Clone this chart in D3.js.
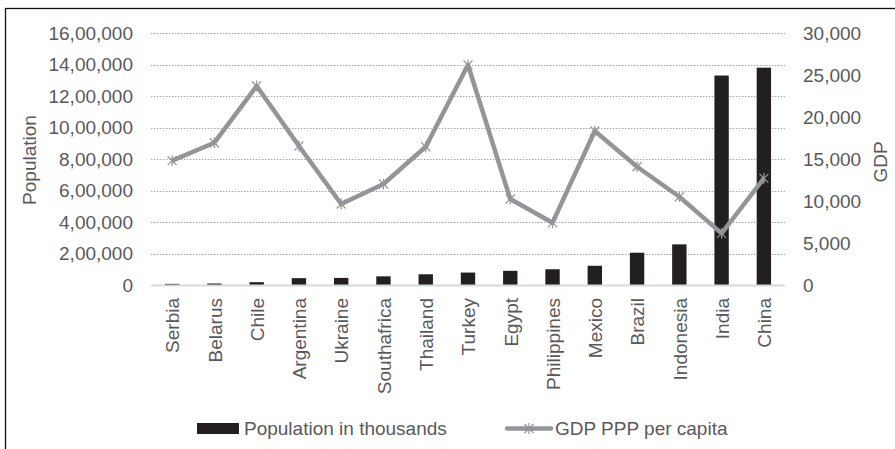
<!DOCTYPE html>
<html>
<head>
<meta charset="utf-8">
<script src="https://cdn.jsdelivr.net/npm/d3@7"></script>
<style>
  html, body { margin: 0; padding: 0; background: #fff; }
  svg { display: block; font-family: "Liberation Sans", Arial, sans-serif; }
</style>
</head>
<body>
<svg id="chart" width="895" height="449"></svg>
<script>
// chart data
const countries = ['Serbia', 'Belarus', 'Chile', 'Argentina', 'Ukraine', 'Southafrica', 'Thailand',
    'Turkey', 'Egypt', 'Philippines', 'Mexico', 'Brazil', 'Indonesia', 'India', 'China'];
const population = [7000, 9500, 18000, 43500, 45000, 55000, 68000, 79000, 90000, 100000,
    122000, 205000, 258000, 1330000, 1380000];
const gdpPerCapita = [14800, 16940, 23690, 16550, 9640, 12020, 16460, 26190, 10240, 7420,
    18330, 14080, 10510, 6150, 12700];
const popTicks = [0, 200000, 400000, 600000, 800000, 1000000, 1200000, 1400000, 1600000];
const popTickLabels = ['0', '2,00,000', '4,00,000', '6,00,000', '8,00,000', '10,00,000',
    '12,00,000', '14,00,000', '16,00,000'];
const gdpTicks = [0, 5000, 10000, 15000, 20000, 25000, 30000];
const gdpTickLabels = ['0', '5,000', '10,000', '15,000', '20,000', '25,000', '30,000'];
const seriesNames = ['Population in thousands', 'GDP PPP per capita'];

const svg = d3.select('#chart');
const textColor = '#595959';
const barColor = '#231f20';
const lineColor = '#939598';

const plot = { left: 151, right: 785, top: 33, bottom: 285 };

// frame
svg.append('rect')
    .attr('x', 5.5).attr('y', 8.5)
    .attr('width', 1000).attr('height', 1000)
    .attr('fill', 'none')
    .attr('stroke', '#111')
    .attr('stroke-width', 1.3);

const x = d3.scaleBand()
    .domain(countries)
    .range([plot.left, plot.right])
    .paddingInner(0.66)
    .paddingOuter(0.33);

const yPop = d3.scaleLinear().domain([0, 1600000]).range([plot.bottom, plot.top]);
const yGdp = d3.scaleLinear().domain([0, 30000]).range([plot.bottom, plot.top]);

// gridlines
svg.append('g')
    .selectAll('line')
    .data(popTicks.filter(d => d > 0))
    .enter()
    .append('line')
    .attr('x1', plot.left).attr('x2', plot.right)
    .attr('y1', d => Math.round(yPop(d)) + 0.5)
    .attr('y2', d => Math.round(yPop(d)) + 0.5)
    .attr('stroke', '#a6a6a6')
    .attr('stroke-width', 1)
    .attr('stroke-dasharray', '1.5,1.5');

// left axis
const leftAxis = svg.append('g')
    .attr('transform', `translate(${plot.left - 18},0)`)
    .call(d3.axisLeft(yPop)
        .tickValues(popTicks)
        .tickFormat((d, i) => popTickLabels[i])
        .tickSize(0)
        .tickPadding(0));
leftAxis.select('.domain').remove();
leftAxis.selectAll('text')
    .attr('fill', textColor)
    .style('font-size', '19px');

// right axis
const rightAxis = svg.append('g')
    .attr('transform', `translate(${plot.right + 18},0)`)
    .call(d3.axisRight(yGdp)
        .tickValues(gdpTicks)
        .tickFormat((d, i) => gdpTickLabels[i])
        .tickSize(0)
        .tickPadding(0));
rightAxis.select('.domain').remove();
rightAxis.selectAll('text')
    .attr('fill', textColor)
    .style('font-size', '19px');

// bars
svg.append('g')
    .selectAll('rect')
    .data(countries)
    .enter()
    .append('rect')
    .attr('x', d => x(d))
    .attr('width', x.bandwidth())
    .attr('y', (d, i) => yPop(population[i]))
    .attr('height', (d, i) => plot.bottom - yPop(population[i]))
    .attr('fill', barColor);

// zero line
svg.append('line')
    .attr('x1', plot.left).attr('x2', plot.right)
    .attr('y1', plot.bottom + 0.5).attr('y2', plot.bottom + 0.5)
    .attr('stroke', '#d9d9d9')
    .attr('stroke-width', 2);

// category labels
svg.append('g')
    .selectAll('text')
    .data(countries)
    .enter()
    .append('text')
    .attr('transform', d => `translate(${x(d) + x.bandwidth() / 2},${plot.bottom + 13}) rotate(-90)`)
    .attr('dy', '0.38em')
    .attr('text-anchor', 'end')
    .attr('fill', textColor)
    .style('font-size', '19px')
    .text(d => d);

// asterisk marker (x with vertical stroke)
function starPath(cx, cy, r) {
    const p = d3.path();
    p.moveTo(cx - r, cy - r); p.lineTo(cx + r, cy + r);
    p.moveTo(cx - r, cy + r); p.lineTo(cx + r, cy - r);
    p.moveTo(cx, cy - r * 1.2); p.lineTo(cx, cy + r * 1.2);
    return p.toString();
}

// GDP line
const line = d3.line()
    .x((d, i) => x(countries[i]) + x.bandwidth() / 2)
    .y(d => yGdp(d));

svg.append('path')
    .datum(gdpPerCapita)
    .attr('d', line)
    .attr('fill', 'none')
    .attr('stroke', lineColor)
    .attr('stroke-width', 4.5)
    .attr('stroke-linejoin', 'round');

svg.append('g')
    .selectAll('path')
    .data(gdpPerCapita)
    .enter()
    .append('path')
    .attr('d', (d, i) => starPath(x(countries[i]) + x.bandwidth() / 2, yGdp(d), 4.5))
    .attr('stroke', lineColor)
    .attr('stroke-width', 1.2)
    .attr('fill', 'none');

// axis titles
svg.append('text')
    .attr('transform', 'translate(36,160) rotate(-90)')
    .attr('text-anchor', 'middle')
    .attr('fill', textColor)
    .style('font-size', '19px')
    .text('Population');

svg.append('text')
    .attr('transform', 'translate(887,162) rotate(-90)')
    .attr('text-anchor', 'middle')
    .attr('fill', textColor)
    .style('font-size', '19px')
    .text('GDP');

// legend
const legend = svg.append('g');
legend.append('rect')
    .attr('x', 197).attr('y', 423)
    .attr('width', 42).attr('height', 11)
    .attr('fill', barColor);
legend.append('text')
    .attr('x', 244).attr('y', 435)
    .attr('fill', textColor)
    .style('font-size', '19px')
    .text(seriesNames[0]);

legend.append('line')
    .attr('x1', 507).attr('x2', 551)
    .attr('y1', 428.5).attr('y2', 428.5)
    .attr('stroke', lineColor)
    .attr('stroke-width', 4.5)
    .attr('stroke-linecap', 'round');
legend.append('path')
    .attr('d', starPath(529, 428.5, 4.5))
    .attr('stroke', lineColor)
    .attr('stroke-width', 1.2)
    .attr('fill', 'none');
legend.append('text')
    .attr('x', 555).attr('y', 435)
    .attr('fill', textColor)
    .style('font-size', '19px')
    .text(seriesNames[1]);
</script>
</body>
</html>
